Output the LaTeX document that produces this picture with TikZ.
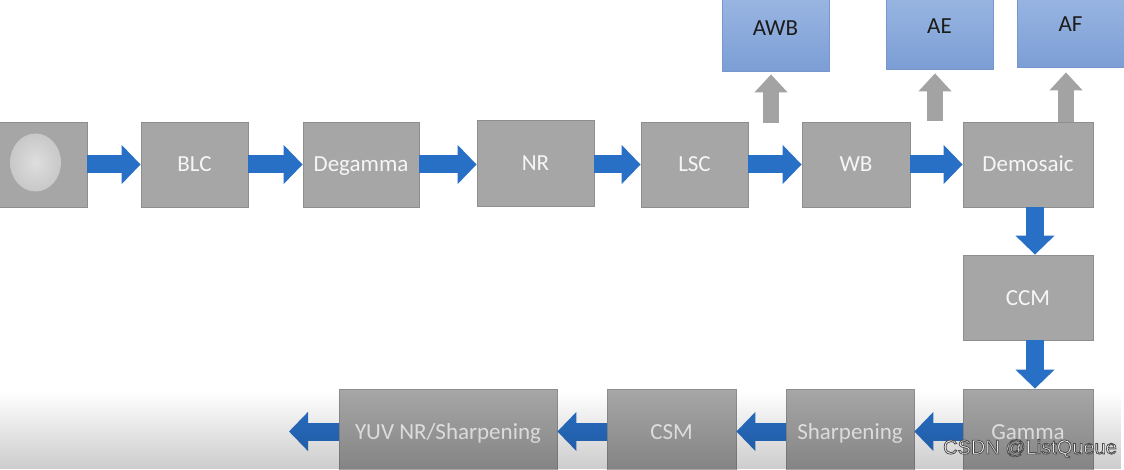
\documentclass[tikz,border=0pt]{standalone}
\usepackage{fontspec}
\setmainfont{Carlito}
\newfontfamily\markfont{Liberation Sans}
\usetikzlibrary{arrows.meta, positioning, fadings}
\definecolor{StageFill}{RGB}{166,166,166}
\definecolor{StageBorder}{RGB}{142,142,142}
\definecolor{StageText}{RGB}{246,246,246}
\definecolor{StatTop}{RGB}{158,186,228}
\definecolor{StatBottom}{RGB}{124,158,213}
\definecolor{StatBorder}{RGB}{118,150,204}
\definecolor{StatText}{RGB}{28,28,28}
\definecolor{FlowBlue}{RGB}{40,111,198}
\definecolor{TapGray}{RGB}{163,163,163}
\definecolor{LensLight}{RGB}{222,222,222}
\definecolor{LensGray}{RGB}{200,200,200}
% outlined watermark text (fill white, stroke dark gray)
\newcommand{\outlined}[1]{%
  \special{pdf:literal direct 2 Tr 0.8 w 0.3 G}#1\special{pdf:literal direct 0 Tr 0 G}}
\tikzset{
  every node/.style={font=\fontsize{23}{28}\selectfont},
  stage/.style={draw=StageBorder, fill=StageFill, line width=0.8pt,
                text=StageText, minimum height=85pt, inner sep=0pt,
                text height=15pt, text depth=0pt},
  stat/.style={draw=StatBorder, top color=StatTop, bottom color=StatBottom,
               line width=0.8pt, text=StatText, minimum width=107pt,
               minimum height=85pt, inner sep=0pt,
               text height=15pt, text depth=0pt},
  flow/.style={-{Triangle[length=19pt,width=38pt]}, line width=18pt, FlowBlue},
  tap/.style={-{Triangle[length=18pt,width=32pt]}, line width=16pt, TapGray}
}

\begin{document}
\begin{tikzpicture}[x=1pt,y=1pt]
\useasboundingbox (0,0) rectangle (1124,469);
\clip (0,0) rectangle (1124,469);
\fill[white] (0,0) rectangle (1124,469);

% Top row: raw domain
\node[stage, minimum width=107pt] (sensor) at (33.5,304.5) {};
\shade[inner color=LensLight, outer color=LensGray]
  ([xshift=2pt,yshift=2pt]sensor.center) ellipse (25.5 and 29);
\node[stage, minimum width=107pt] (blc) at (194.5,304.5) {BLC};
\node[stage, minimum width=116pt] (degamma) at (361,304.5) {Degamma};
\node[stage, minimum width=117pt, minimum height=86pt] (nr) at (535.5,306) {NR};
\node[stage, minimum width=107pt] (lsc) at (694.5,304.5) {LSC};
\node[stage, minimum width=108pt] (wb) at (856,304.5) {WB};
\node[stage, minimum width=130pt] (demosaic) at (1028,304.5) {Demosaic};

% Right column
\node[stage, minimum width=130pt] (ccm) at (1028,171.5) {CCM};
\node[stage, minimum width=130pt] (gamma) at (1028,37.5) {Gamma};

% Bottom row: YUV domain
\node[stage, minimum width=128pt] (sharpen) at (850,37.5) {Sharpening};
\node[stage, minimum width=129pt] (csm) at (671.5,37.5) {CSM};
\node[stage, minimum width=218pt] (yuvnr) at (448,37.5) {YUV NR/Sharpening};
\coordinate (yuvout) at (289,37.5);

% 3A statistics
\node[stat] (awb) at (775.5,440.5) {AWB};
\node[stat] (ae) at (939.5,442.5) {AE};
\node[stat] (af) at (1070.5,444.5) {AF};

% Pipeline arrows
\draw[flow] (sensor.east) -- (blc.west);
\draw[flow] (blc.east) -- (degamma.west);
\draw[flow] (degamma.east) -- (degamma.east -| nr.west);
\draw[flow] (nr.east |- lsc.west) -- (lsc.west);
\draw[flow] (lsc.east) -- (wb.west);
\draw[flow] (wb.east) -- (demosaic.west);
\draw[flow] ([xshift=7pt]demosaic.south) -- ([xshift=7pt]ccm.north);
\draw[flow] ([xshift=7pt]ccm.south) -- ([xshift=7pt]gamma.north);
\draw[flow] (gamma.west) -- (sharpen.east);
\draw[flow] (sharpen.west) -- (csm.east);
\draw[flow] (csm.west) -- (yuvnr.east);
\draw[flow] (yuvnr.west) -- (yuvout);

% Statistics taps
\coordinate (awbtap) at (771,346);
\coordinate (aetap) at (935,348);
\coordinate (aftap) at ([xshift=38pt]demosaic.north);
\draw[tap] (awbtap) -- ([yshift=-3pt]awbtap |- awb.south);
\draw[tap] (aetap) -- ([yshift=-4pt]aetap |- ae.south);
\draw[tap] (aftap) -- ([yshift=-5pt]aftap |- af.south);

% Player shading and watermark
\fill[black, opacity=0.2, path fading=north] (0,0) rectangle (1124,78);
\node[font=\markfont\fontsize{20}{24}\selectfont, text=white, anchor=base]
  (mark) at (1030,15) {\outlined{CSDN @ListQueue}};

\end{tikzpicture}
\end{document}
